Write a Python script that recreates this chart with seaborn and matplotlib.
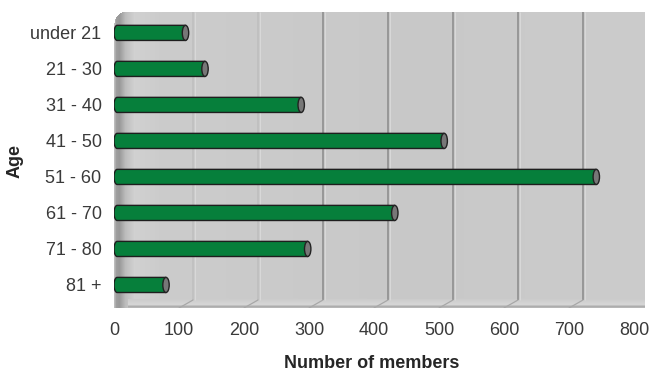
import numpy as np
import pandas as pd
import matplotlib
matplotlib.use("Agg")
import matplotlib.pyplot as plt
from matplotlib.path import Path
from matplotlib.patches import PathPatch, Ellipse
import seaborn as sns

# Membership by age group
age_groups = ["under 21", "21 - 30", "31 - 40", "41 - 50", "51 - 60", "61 - 70", "71 - 80", "81 +"]
members = [110, 140, 288, 508, 742, 432, 298, 80]
x_ticks = [0, 100, 200, 300, 400, 500, 600, 700, 800]

sns.set_theme(style="white")
plt.rcParams["font.family"] = ["Liberation Sans", "DejaVu Sans"]

W, H = 651, 374
fig = plt.figure(figsize=(W / 100, H / 100), dpi=100)
fig.patch.set_facecolor("white")

# plot area (pixels): front scale 0 -> 114 px, 800 -> 634 px; back wall reaches 645 px
left_px, right_px, top_px, bottom_px = 114, 645, 12, 308
ax = fig.add_axes([left_px / W, 1 - bottom_px / H,
                   (right_px - left_px) / W, (bottom_px - top_px) / H])

px_per_unit = (634 - 114) / 800
x_max = (right_px - left_px) / px_per_unit
y_top, y_bottom = -0.58, 7.64

df = pd.DataFrame({"Age": age_groups, "Members": members})
sns.barplot(data=df, x="Members", y="Age", orient="h", color="#067f3b",
            saturation=1, width=0.42, edgecolor="none", linewidth=0,
            errorbar=None, ax=ax, zorder=3)

# back wall with shaded side wall and floor
ww, wh = right_px - left_px, bottom_px - top_px
prof = np.interp(np.arange(ww), [0, 2, 5, 11, 20, 45, 300, ww],
                 [0.74, 0.62, 0.60, 0.74, 0.82, 0.80, 0.785, 0.80])
val = np.tile(prof, (wh, 1))
rows = np.arange(wh)
floor_rows = rows >= wh - 9
val[floor_rows, 14:] = np.interp(rows[floor_rows], [wh - 9, wh - 4, wh - 2, wh - 1],
                                 [0.80, 0.84, 0.68, 0.72])[:, None]
val[0, 12:] = 0.84
rgba = np.zeros((wh, ww, 4))
rgba[..., 0] = val
rgba[..., 1] = val
rgba[..., 2] = val
rgba[..., 3] = 1.0
yy, xx = np.mgrid[0:wh, 0:ww]
corner = (xx < 12) & (yy < 12) & ((xx - 12) ** 2 + (yy - 12) ** 2 > 144)
rgba[corner, 3] = 0.0
ax.imshow(rgba, extent=(0, x_max, y_bottom, y_top), aspect="auto",
          interpolation="bilinear", zorder=0)

ax.set_xlim(0, x_max)
ax.set_ylim(y_bottom, y_top)
ax.set_xticks(x_ticks)
ax.grid(False)

# gridlines on the back wall, set back by the chart depth
depth_px = 14
dx = depth_px / px_per_unit
floor_frac = 8 / wh
xform = ax.get_xaxis_transform()
for v in ax.get_xticks()[1:-1]:
    col = "#939393" if v >= 300 else "#c0c0c0"
    ax.plot([v + dx, v + dx], [floor_frac, 1], transform=xform,
            color=col, lw=1.3, zorder=1, solid_capstyle="butt")
    ax.plot([v + dx + 1.6 / px_per_unit] * 2, [floor_frac, 1], transform=xform,
            color="#d8d8d8", lw=0.8, zorder=1, solid_capstyle="butt")
    ax.plot([v, v + dx], [0, floor_frac], transform=xform,
            color="#a8a8a8", lw=0.9, zorder=1)

# cylinder shape for each bar: rounded left end, grey end cap on the right
e = 3.2 / px_per_unit
for patch in ax.patches[:len(members)]:
    x0, y0 = patch.get_x(), patch.get_y()
    w, h = patch.get_width(), patch.get_height()
    yc = y0 + h / 2
    x1 = x0 + w
    t = np.linspace(np.pi / 2, 3 * np.pi / 2, 40)
    arc = np.column_stack([x0 + e + e * np.cos(t), yc + (h / 2) * np.sin(t)])
    verts = np.vstack([[x1, yc + h / 2], arc, [x1, yc - h / 2], [x1, yc + h / 2]])
    codes = [Path.MOVETO] + [Path.LINETO] * (len(verts) - 2) + [Path.CLOSEPOLY]
    shape = PathPatch(Path(verts, codes), transform=ax.transData,
                      fc="none", ec="#1e1e1e", lw=1.0, zorder=4)
    ax.add_patch(shape)
    patch.set_clip_path(shape)
    ax.add_patch(Ellipse((x1, yc), 2 * e, h, fc="#777777", ec="#222222",
                         lw=1.0, zorder=5))

sns.despine(ax=ax, left=True, bottom=True, top=True, right=True)
ax.tick_params(axis="both", length=0, labelsize=13, labelcolor="#3a3a3a")
ax.tick_params(axis="x", pad=10)
ax.tick_params(axis="y", pad=9)

ax.set_xlabel("Number of members", fontsize=13, fontweight="bold", color="#262626")
ax.set_ylabel("Age", fontsize=13, fontweight="bold", color="#262626")
ax.xaxis.set_label_coords((372 - left_px) / ww, (bottom_px - 364) / wh)
ax.xaxis.label.set_va("center")
ax.yaxis.set_label_coords((15 - left_px) / ww, (bottom_px - 161) / wh)
ax.yaxis.label.set_va("center")

fig.savefig("out.png", dpi=100)
